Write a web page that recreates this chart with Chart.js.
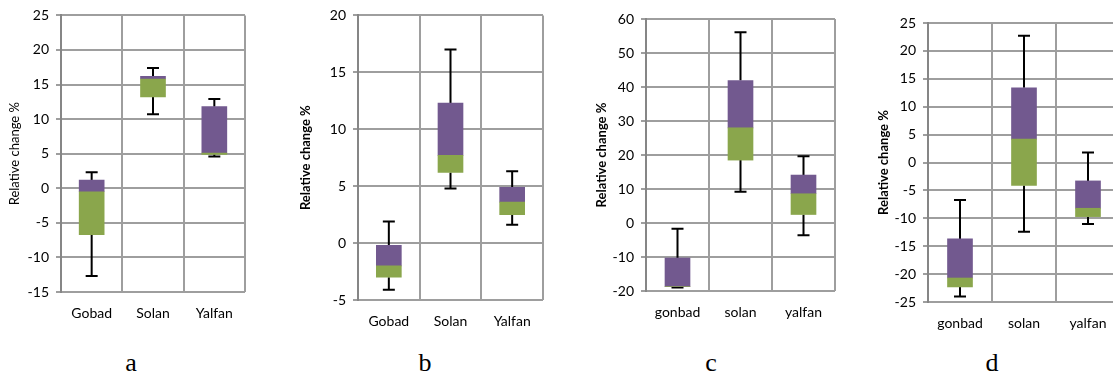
<!DOCTYPE html>
<html>
<head>
<meta charset="utf-8">
<script src="https://cdn.jsdelivr.net/npm/chart.js@4.4.1/dist/chart.umd.min.js"></script>
<style>
  html, body { margin: 0; padding: 0; background: #fff; width: 1113px; height: 379px; overflow: hidden; }
  .wrap { position: absolute; top: 0; }
  .lbl { position: absolute; font-family: "Liberation Serif", "Times New Roman", serif; font-size: 26px; color: #000; transform: translateX(-50%); line-height: 1; }
</style>
</head>
<body>
<script>
// ---------- DATA ----------
const categoriesAB = ['Gobad', 'Solan', 'Yalfan'];
const categoriesCD = ['gonbad', 'solan', 'yalfan'];

// panel a
const aMin = [-12.7, 10.7, 4.6];
const aQ1  = [-6.7, 13.2, 4.9];
const aMid = [-0.5, 15.8, 5.1];
const aQ3  = [1.2, 16.2, 11.8];
const aMax = [2.3, 17.4, 12.9];
const aTicks = [-15, -10, -5, 0, 5, 10, 15, 20, 25];

// panel b
const bMin = [-4.1, 4.8, 1.6];
const bQ1  = [-3.0, 6.2, 2.5];
const bMid = [-2.0, 7.7, 3.6];
const bQ3  = [-0.2, 12.3, 4.9];
const bMax = [1.9, 17.0, 6.3];
const bTicks = [-5, 0, 5, 10, 15, 20];

// panel c
const cMin = [-19.0, 9.2, -3.6];
const cQ1  = [-18.7, 18.5, 2.5];
const cMid = [-18.7, 28.0, 8.6];
const cQ3  = [-10.3, 41.9, 14.1];
const cMax = [-1.7, 56.1, 19.6];
const cTicks = [-20, -10, 0, 10, 20, 30, 40, 50, 60];

// panel d
const dMin = [-24.0, -12.4, -11.0];
const dQ1  = [-22.3, -4.1, -9.7];
const dMid = [-20.7, 4.2, -8.2];
const dQ3  = [-13.7, 13.4, -3.3];
const dMax = [-6.7, 22.7, 1.8];
const dTicks = [-25, -20, -15, -10, -5, 0, 5, 10, 15, 20, 25];

const axisTitle = 'Relative change %';
const panelLetters = ['a', 'b', 'c', 'd'];

// ---------- LAYOUT / STYLE ----------
const PURPLE = '#72598f';
const GREEN = '#8aa64c';
const GRID = '#9e9e9e';
const FONT = 'Lato, "Open Sans", sans-serif';
const CANVAS_H = 340;

const panels = [
  { cats: categoriesAB, min: aMin, q1: aQ1, mid: aMid, q3: aQ3, max: aMax, ticks: aTicks,
    canvasLeft: 7, chartLeft: 61, chartRight: 245, top: 14, bottom: 292, bold: false, letterX: 131 },
  { cats: categoriesAB, min: bMin, q1: bQ1, mid: bMid, q3: bQ3, max: bMax, ticks: bTicks,
    canvasLeft: 298, chartLeft: 358, chartRight: 543, top: 15, bottom: 300, bold: true, letterX: 425 },
  { cats: categoriesCD, min: cMin, q1: cQ1, mid: cMid, q3: cQ3, max: cMax, ticks: cTicks,
    canvasLeft: 594, chartLeft: 646, chartRight: 835, top: 19, bottom: 291, bold: true, letterX: 711 },
  { cats: categoriesCD, min: dMin, q1: dQ1, mid: dMid, q3: dQ3, max: dMax, ticks: dTicks,
    canvasLeft: 876, chartLeft: 928, chartRight: 1120, top: 23, bottom: 302, bold: true, letterX: 992 }
];

const whiskerPlugin = {
  id: 'whiskers',
  beforeDatasetsDraw(chart, args, opts) {
    const p = opts.panel;
    const x = chart.scales.x, y = chart.scales.y;
    const ctx = chart.ctx;
    ctx.save();
    ctx.strokeStyle = '#000';
    ctx.lineWidth = 2;
    const cap = 6;
    p.cats.forEach((c, i) => {
      const cx = x.getPixelForValue(i);
      const yMax = y.getPixelForValue(p.max[i]);
      const yQ3 = y.getPixelForValue(p.q3[i]);
      const yQ1 = y.getPixelForValue(p.q1[i]);
      const yMin = y.getPixelForValue(p.min[i]);
      ctx.beginPath();
      ctx.moveTo(cx, yQ3); ctx.lineTo(cx, yMax);
      ctx.moveTo(cx - cap, yMax); ctx.lineTo(cx + cap, yMax);
      ctx.moveTo(cx, yQ1); ctx.lineTo(cx, yMin);
      ctx.moveTo(cx - cap, yMin); ctx.lineTo(cx + cap, yMin);
      ctx.stroke();
    });
    ctx.restore();
  }
};

panels.forEach((p, idx) => {
  const width = p.chartRight - p.canvasLeft + 3;
  const wrap = document.createElement('div');
  wrap.className = 'wrap';
  wrap.style.left = p.canvasLeft + 'px';
  wrap.style.width = width + 'px';
  wrap.style.height = CANVAS_H + 'px';
  const cv = document.createElement('canvas');
  cv.width = width; cv.height = CANVAS_H;
  cv.style.width = width + 'px'; cv.style.height = CANVAS_H + 'px';
  wrap.appendChild(cv);
  document.body.appendChild(wrap);

  const lbl = document.createElement('div');
  lbl.className = 'lbl';
  lbl.textContent = panelLetters[idx];
  lbl.style.left = p.letterX + 'px';
  lbl.style.top = '350px';
  document.body.appendChild(lbl);

  new Chart(cv, {
    type: 'bar',
    data: {
      labels: p.cats,
      datasets: [
        { label: 'lower', data: p.q1.map((v, i) => [v, p.mid[i]]), backgroundColor: GREEN,
          barThickness: 25, grouped: false, borderSkipped: false, borderWidth: 0 },
        { label: 'upper', data: p.mid.map((v, i) => [v, p.q3[i]]), backgroundColor: PURPLE,
          barThickness: 25, grouped: false, borderSkipped: false, borderWidth: 0 }
      ]
    },
    options: {
      responsive: false,
      animation: false,
      devicePixelRatio: 1,
      layout: { padding: { top: p.top, right: 3, left: 0, bottom: 0 } },
      plugins: {
        legend: { display: false },
        tooltip: { enabled: false },
        whiskers: { panel: p }
      },
      scales: {
        x: {
          offset: true,
          grid: { color: GRID, lineWidth: 2, offset: true, drawTicks: false },
          border: { display: false },
          ticks: { color: '#000', font: { family: FONT, size: 14 }, padding: 13 },
          afterFit: s => { s.height = CANVAS_H - p.bottom; }
        },
        y: {
          min: p.ticks[0],
          max: p.ticks[p.ticks.length - 1],
          afterBuildTicks: s => { s.ticks = p.ticks.map(v => ({ value: v })); },
          grid: { color: GRID, lineWidth: 2, tickLength: 5, drawTicks: true },
          border: { color: '#868686', width: 2 },
          ticks: { color: '#000', font: { family: FONT, size: 14 }, padding: 7 },
          title: { display: true, text: axisTitle, color: '#000', padding: 0,
                   font: { family: FONT, size: 13, weight: p.bold ? 'bold' : 'normal' } },
          afterFit: s => { s.width = p.chartLeft - p.canvasLeft; }
        }
      }
    },
    plugins: [whiskerPlugin]
  });
});
</script>
</body>
</html>
